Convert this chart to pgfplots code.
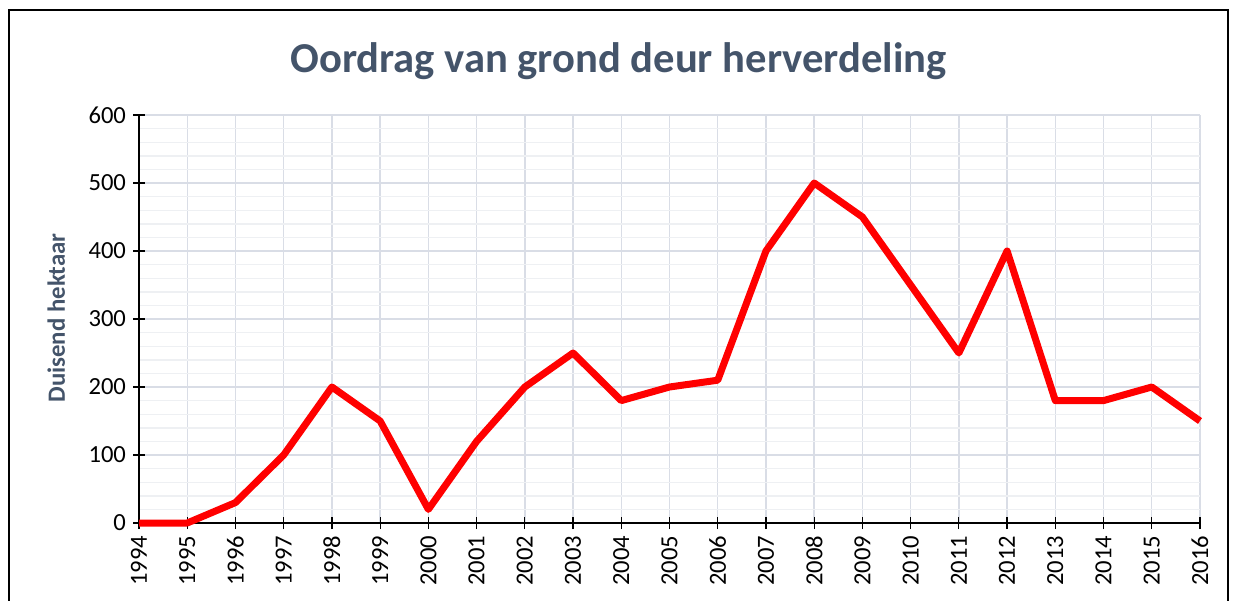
\documentclass[border=0pt]{standalone}
\usepackage{pgfplots}
\pgfplotsset{compat=1.18}
\usepackage{fontspec}
\setmainfont{Carlito}
\definecolor{titlec}{HTML}{44546A}
\definecolor{majg}{HTML}{D9DDE6}
\definecolor{ming}{HTML}{EEF0F3}
\begin{document}
\begin{tikzpicture}
\useasboundingbox (0,0) rectangle (618.5pt,300pt);
\draw[line width=0.8pt] (4.5pt,-20pt) rectangle (614pt,295pt);
\node[anchor=base, text=titlec, font=\bfseries\fontsize{21.3}{25}\selectfont] at (309.25pt,263.5pt) {Oordrag van grond deur herverdeling};
\begin{axis}[
  at={(69.5pt,38.5pt)}, anchor=south west,
  scale only axis, width=530.5pt, height=204pt,
  xmin=1994, xmax=2016, ymin=0, ymax=600,
  xtick={1994,1995,...,2016}, ytick={0,100,...,600},
  minor x tick num=1, minor y tick num=4,
  grid=both,
  major grid style={majg, line width=0.7pt},
  minor grid style={ming, line width=0.7pt},
  axis lines*=left,
  axis line style={black, line width=0.6pt},
  tick align=center, major tick length=6pt, minor tick length=0pt,
  tick style={black, line width=0.6pt},
  /pgf/number format/1000 sep={},
  /pgf/number format/assume math mode=true,
  ticklabel style={font=\fontsize{12.3}{14}\selectfont},
  x tick label style={rotate=90, anchor=east},
  ylabel={Duisend hektaar},
  ylabel style={font=\bfseries\fontsize{12.4}{14}\selectfont, text=titlec, at={(-33.5pt,102.5pt)}, anchor=south, rotate=0},
  clip=false,
]
\addplot[red, line width=3.5pt, line join=round] coordinates {
(1994,0) (1995,0) (1996,30) (1997,100) (1998,200) (1999,150) (2000,20)
(2001,120) (2002,200) (2003,250) (2004,180) (2005,200) (2006,210)
(2007,400) (2008,500) (2009,450) (2010,350) (2011,250) (2012,400)
(2013,180) (2014,180) (2015,200) (2016,150)};
\end{axis}
\end{tikzpicture}
\end{document}
